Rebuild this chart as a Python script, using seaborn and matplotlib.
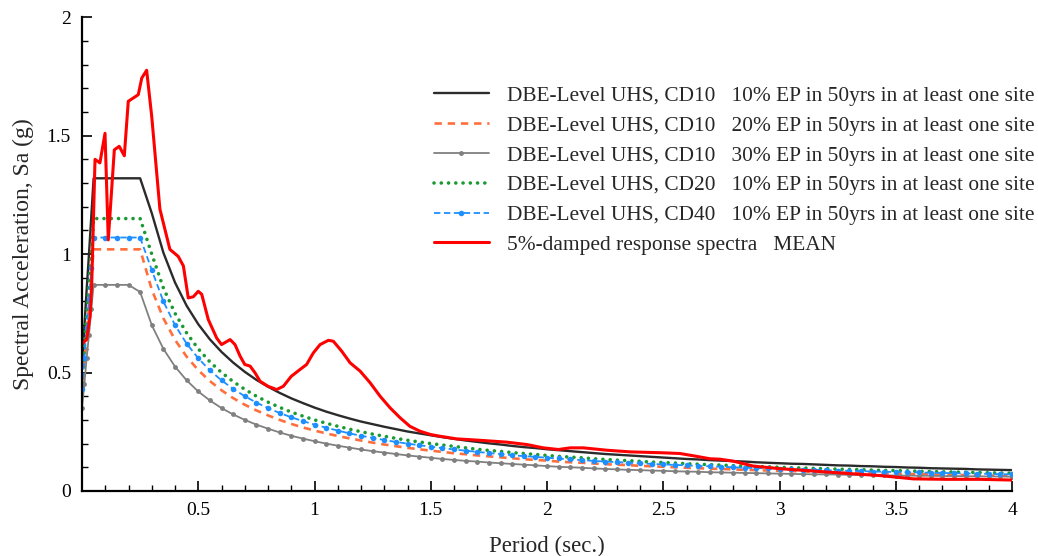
import matplotlib
matplotlib.use("Agg")
import matplotlib.pyplot as plt
from matplotlib.ticker import MultipleLocator, FuncFormatter
import seaborn as sns

# --- data ---
uhs_period = [
    0.00, 0.01, 0.02, 0.03, 0.04, 0.05, 0.10, 0.15, 0.20, 0.25,
    0.30, 0.35, 0.40, 0.45, 0.50, 0.55, 0.60, 0.65, 0.70, 0.75,
    0.80, 0.85, 0.90, 0.95, 1.00, 1.05, 1.10, 1.15, 1.20, 1.25,
    1.30, 1.35, 1.40, 1.45, 1.50, 1.55, 1.60, 1.65, 1.70, 1.75,
    1.80, 1.85, 1.90, 1.95, 2.00, 2.05, 2.10, 2.15, 2.20, 2.25,
    2.30, 2.35, 2.40, 2.45, 2.50, 2.55, 2.60, 2.65, 2.70, 2.75,
    2.80, 2.85, 2.90, 2.95, 3.00, 3.05, 3.10, 3.15, 3.20, 3.25,
    3.30, 3.35, 3.40, 3.45, 3.50, 3.55, 3.60, 3.65, 3.70, 3.75,
    3.80, 3.85, 3.90, 3.95, 4.00,
]

cd10_10 = [
    0.53, 0.69, 0.85, 1.00, 1.16, 1.32, 1.32, 1.32, 1.32, 1.32,
    1.173, 1.006, 0.880, 0.782, 0.704, 0.640, 0.587, 0.542, 0.503, 0.469,
    0.440, 0.414, 0.391, 0.371, 0.352, 0.335, 0.320, 0.306, 0.293, 0.282,
    0.271, 0.261, 0.251, 0.243, 0.235, 0.227, 0.220, 0.213, 0.207, 0.201,
    0.196, 0.190, 0.185, 0.181, 0.176, 0.172, 0.168, 0.164, 0.160, 0.156,
    0.153, 0.150, 0.147, 0.144, 0.141, 0.138, 0.135, 0.133, 0.130, 0.128,
    0.126, 0.124, 0.121, 0.119, 0.117, 0.115, 0.114, 0.112, 0.110, 0.108,
    0.107, 0.105, 0.104, 0.102, 0.101, 0.099, 0.098, 0.096, 0.095, 0.094,
    0.093, 0.091, 0.090, 0.089, 0.088,
]

cd10_20 = [
    0.41, 0.53, 0.65, 0.78, 0.90, 1.02, 1.02, 1.02, 1.02, 1.02,
    0.850, 0.729, 0.638, 0.567, 0.510, 0.464, 0.425, 0.392, 0.364, 0.340,
    0.319, 0.300, 0.283, 0.268, 0.255, 0.243, 0.232, 0.222, 0.213, 0.204,
    0.196, 0.189, 0.182, 0.176, 0.170, 0.165, 0.159, 0.155, 0.150, 0.146,
    0.142, 0.138, 0.134, 0.131, 0.128, 0.124, 0.121, 0.119, 0.116, 0.113,
    0.111, 0.109, 0.106, 0.104, 0.102, 0.100, 0.098, 0.096, 0.094, 0.093,
    0.091, 0.089, 0.088, 0.086, 0.085, 0.084, 0.082, 0.081, 0.080, 0.078,
    0.077, 0.076, 0.075, 0.074, 0.073, 0.072, 0.071, 0.070, 0.069, 0.068,
    0.067, 0.066, 0.065, 0.065, 0.064,
]

cd10_30 = [
    0.35, 0.45, 0.56, 0.66, 0.77, 0.87, 0.87, 0.87, 0.87, 0.84,
    0.700, 0.600, 0.525, 0.467, 0.420, 0.382, 0.350, 0.323, 0.300, 0.280,
    0.263, 0.247, 0.233, 0.221, 0.210, 0.200, 0.191, 0.183, 0.175, 0.168,
    0.162, 0.156, 0.150, 0.145, 0.140, 0.135, 0.131, 0.127, 0.124, 0.120,
    0.117, 0.114, 0.111, 0.108, 0.105, 0.102, 0.100, 0.098, 0.095, 0.093,
    0.091, 0.089, 0.088, 0.086, 0.085, 0.083, 0.082, 0.081, 0.079, 0.078,
    0.077, 0.076, 0.075, 0.074, 0.073, 0.072, 0.071, 0.070, 0.070, 0.069,
    0.068, 0.067, 0.067, 0.066, 0.065, 0.065, 0.064, 0.064, 0.063, 0.063,
    0.062, 0.062, 0.061, 0.061, 0.060,
]

cd20_10 = [
    0.46, 0.60, 0.74, 0.87, 1.01, 1.15, 1.15, 1.15, 1.15, 1.15,
    1.000, 0.857, 0.750, 0.667, 0.600, 0.545, 0.500, 0.462, 0.429, 0.400,
    0.375, 0.353, 0.333, 0.316, 0.300, 0.286, 0.273, 0.261, 0.250, 0.240,
    0.231, 0.222, 0.214, 0.207, 0.200, 0.194, 0.188, 0.182, 0.176, 0.171,
    0.167, 0.162, 0.158, 0.154, 0.150, 0.146, 0.143, 0.140, 0.136, 0.133,
    0.130, 0.128, 0.125, 0.122, 0.120, 0.118, 0.115, 0.113, 0.111, 0.109,
    0.107, 0.105, 0.103, 0.102, 0.100, 0.098, 0.097, 0.095, 0.094, 0.092,
    0.091, 0.090, 0.088, 0.087, 0.086, 0.085, 0.083, 0.082, 0.081, 0.080,
    0.079, 0.078, 0.077, 0.076, 0.075,
]

cd40_10 = [
    0.43, 0.56, 0.69, 0.81, 0.94, 1.07, 1.07, 1.07, 1.07, 1.07,
    0.933, 0.800, 0.700, 0.622, 0.560, 0.509, 0.467, 0.431, 0.400, 0.373,
    0.350, 0.329, 0.311, 0.295, 0.280, 0.267, 0.255, 0.243, 0.233, 0.224,
    0.215, 0.207, 0.200, 0.193, 0.187, 0.181, 0.175, 0.170, 0.165, 0.160,
    0.156, 0.151, 0.147, 0.144, 0.140, 0.137, 0.133, 0.130, 0.127, 0.124,
    0.122, 0.119, 0.117, 0.114, 0.112, 0.110, 0.108, 0.106, 0.104, 0.102,
    0.100, 0.098, 0.097, 0.095, 0.093, 0.092, 0.090, 0.089, 0.088, 0.086,
    0.085, 0.084, 0.082, 0.081, 0.080, 0.079, 0.078, 0.077, 0.076, 0.075,
    0.074, 0.073, 0.072, 0.071, 0.070,
]

mean_period = [
    0.00, 0.02, 0.035, 0.042, 0.056, 0.077, 0.099, 0.113, 0.139, 0.160,
    0.182, 0.199, 0.242, 0.257, 0.278, 0.300, 0.335, 0.378, 0.414, 0.436,
    0.457, 0.479, 0.500, 0.515, 0.543, 0.579, 0.600, 0.637, 0.658, 0.680,
    0.700, 0.723, 0.744, 0.766, 0.800, 0.837, 0.866, 0.900, 0.938, 0.966,
    0.995, 1.024, 1.060, 1.081, 1.117, 1.153, 1.196, 1.239, 1.282, 1.325,
    1.368, 1.410, 1.454, 1.500, 1.540, 1.610, 1.710, 1.827, 1.913, 1.984,
    2.049, 2.100, 2.156, 2.257, 2.357, 2.500, 2.572, 2.644, 2.700, 2.744,
    2.800, 2.887, 3.002, 3.145, 3.289, 3.432, 3.575, 3.719, 3.862, 4.000,
]
mean_sa = [
    0.62, 0.64, 0.74, 0.88, 1.40, 1.385, 1.51, 1.06, 1.44, 1.455,
    1.415, 1.645, 1.673, 1.743, 1.776, 1.58, 1.19, 1.02, 0.99, 0.95,
    0.815, 0.82, 0.843, 0.83, 0.724, 0.646, 0.618, 0.639, 0.618, 0.569,
    0.534, 0.527, 0.499, 0.463, 0.442, 0.428, 0.442, 0.484, 0.513, 0.534,
    0.583, 0.618, 0.636, 0.632, 0.590, 0.541, 0.506, 0.457, 0.400, 0.351,
    0.309, 0.273, 0.252, 0.238, 0.231, 0.220, 0.214, 0.206, 0.196, 0.182,
    0.175, 0.182, 0.182, 0.172, 0.165, 0.161, 0.158, 0.146, 0.136, 0.134,
    0.126, 0.105, 0.094, 0.084, 0.074, 0.065, 0.051, 0.049, 0.049, 0.046,
]

labels = [
    "DBE-Level UHS, CD10   10% EP in 50yrs in at least one site",
    "DBE-Level UHS, CD10   20% EP in 50yrs in at least one site",
    "DBE-Level UHS, CD10   30% EP in 50yrs in at least one site",
    "DBE-Level UHS, CD20   10% EP in 50yrs in at least one site",
    "DBE-Level UHS, CD40   10% EP in 50yrs in at least one site",
    "5%-damped response spectra   MEAN",
]

sns.set_theme(style="ticks")
plt.rcParams["font.family"] = ["Liberation Serif", "DejaVu Serif"]

fig = plt.figure(figsize=(10.38, 5.56), dpi=100)
ax = fig.add_axes([0.079, 0.117, 0.896, 0.852])

sns.lineplot(x=uhs_period, y=cd10_10, ax=ax, color="#2b2b2b", lw=1.7,
             label=labels[0], errorbar=None)
sns.lineplot(x=uhs_period, y=cd10_20, ax=ax, color="#ff6f3c", lw=1.9,
             linestyle=(0, (2.8, 2.2)), label=labels[1], errorbar=None)
sns.lineplot(x=uhs_period, y=cd10_30, ax=ax, color="#808080", lw=1.3,
             marker="o", markersize=3.5, markeredgewidth=0, label=labels[2],
             errorbar=None)
sns.lineplot(x=uhs_period, y=cd20_10, ax=ax, color="#1a9a33", lw=2.6,
             linestyle=(0, (0.01, 2.0)), dash_capstyle="round",
             label=labels[3], errorbar=None)
sns.lineplot(x=uhs_period, y=cd40_10, ax=ax, color="#1e8fff", lw=1.3,
             linestyle=(0, (3.5, 2.0)), marker="o", markersize=4,
             markeredgewidth=0, label=labels[4], errorbar=None)
sns.lineplot(x=mean_period, y=mean_sa, ax=ax, color="#ff0000", lw=2.2,
             label=labels[5], errorbar=None, sort=False)

ax.set_xlim(0, 4)
ax.set_ylim(0, 2)
ax.xaxis.set_major_locator(MultipleLocator(0.5))
ax.xaxis.set_minor_locator(MultipleLocator(0.1))
ax.yaxis.set_major_locator(MultipleLocator(0.5))
ax.yaxis.set_minor_locator(MultipleLocator(0.1))
ax.xaxis.set_major_formatter(FuncFormatter(lambda v, p: "" if v == 0 else f"{v:g}"))
ax.yaxis.set_major_formatter(FuncFormatter(lambda v, p: f"{v:g}"))

for side in ["top", "right"]:
    ax.spines[side].set_visible(False)
for side in ["left", "bottom"]:
    ax.spines[side].set_linewidth(1.6)
    ax.spines[side].set_color("black")

ax.tick_params(which="major", direction="in", length=7, width=1.2,
               labelsize=14, colors="black", pad=8)
ax.tick_params(which="minor", direction="in", length=4, width=1.0, colors="black")

ax.set_xlabel("Period (sec.)", fontsize=16.5, labelpad=12)
ax.set_ylabel("Spectral Acceleration, Sa (g)", fontsize=17, labelpad=9)

ax.legend(loc="upper left", bbox_to_anchor=(0.378, 0.855), frameon=False,
          fontsize=15.4, handlelength=2.6, handletextpad=0.85, labelspacing=0.46,
          borderpad=0, borderaxespad=0)

fig.savefig("out.png", dpi=100)
